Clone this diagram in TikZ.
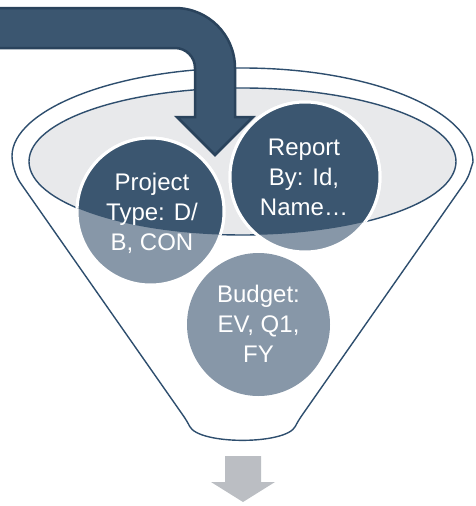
\documentclass[tikz,border=0pt]{standalone}
\usepackage{fontspec}
\setmainfont{Liberation Sans}
\usetikzlibrary{shapes.geometric}
\definecolor{darkblue}{RGB}{59,86,112}
\definecolor{arrowedge}{RGB}{42,67,92}
\definecolor{lightblue}{RGB}{135,151,168}
\definecolor{funnelline}{RGB}{46,78,110}
\definecolor{bowl}{RGB}{232,233,235}
\definecolor{downgray}{RGB}{187,190,195}
\tikzset{
  funnel/.style={draw=funnelline, line width=1.4pt, fill=white},
  lightcirc/.style={circle, fill=lightblue, draw=white, line width=3pt, inner sep=0pt},
  darkcirc/.style={circle, fill=darkblue, draw=white, line width=3pt, inner sep=0pt},
  circtext/.style={text=white, align=center, font=\fontsize{24}{30}\selectfont, inner sep=0pt},
  bigarrow/.style={fill=darkblue, draw=arrowedge, line width=2.5pt, line join=miter},
  smallarrow/.style={fill=downgray, draw=none}
}
\begin{document}
\begin{tikzpicture}[x=1pt, y=-1pt]
\useasboundingbox (0,0) rectangle (475,506);
% funnel body
\draw[funnel] (12,162) arc[start angle=180, end angle=360, x radius=230.5, y radius=94]
  [rounded corners=6] -- (468,178) -- (298,421)
  .. controls (286,445) and (199,445) .. (187,421) -- (17,178) -- cycle;
% inner bowl
\node[draw=funnelline, line width=1.4pt, fill=bowl, ellipse, minimum width=427pt, minimum height=147pt, inner sep=0pt] (bowl) at (242.5,161.5) {};
% circles (light, outside bowl)
\node[lightcirc, minimum size=147pt] (projbg) at (150.5,211.5) {};
\node[lightcirc, minimum size=150pt] (repbg) at (305,177) {};
\node[circle, fill=lightblue, inner sep=0pt, minimum size=143pt] (budbg) at (258.5,324.5) {};
% circles (dark, inside bowl)
\begin{scope}
\clip (242.5,161.5) ellipse [x radius=213.5, y radius=73.5];
\node[darkcirc, minimum size=147pt] (projdk) at (150.5,211.5) {};
\node[darkcirc, minimum size=150pt] (repdk) at (305,177) {};
\end{scope}
% labels
\node[circtext] (project) at (152,213) {Project\\Type: D/\\B, CON};
\node[circtext] (report) at (304,177) {Report\\By: Id,\\Name…};
\node[circtext] (budget) at (258.5,324) {Budget:\\EV, Q1,\\FY};
% big bent arrow
\draw[bigarrow] (-10,8) -- (175,8) arc[start angle=270, end angle=360, radius=60]
  -- (235,117) -- (253,117) -- (215,155) -- (177,117) -- (195,117) -- (195,68)
  arc[start angle=360, end angle=270, radius=20] -- (-10,48) -- cycle;
% small down arrow
\fill[smallarrow] (225,456) -- (261,456) -- (261,482) -- (275,482) -- (243,502) -- (211,482) -- (225,482) -- cycle;
\end{tikzpicture}
\end{document}
